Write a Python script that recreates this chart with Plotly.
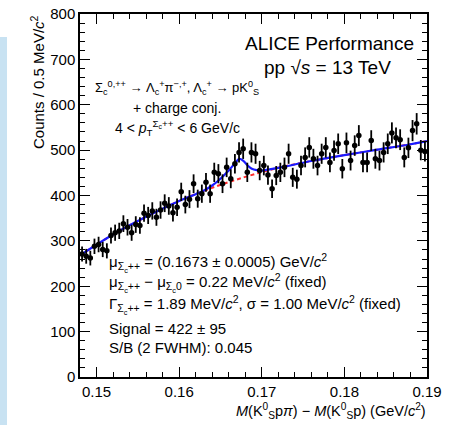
import numpy as np
import plotly.graph_objects as go

# ---- data ----
bin_width = 0.0005
x_first = 0.14825
counts = [271, 266, 262, 288, 292, 281, 278, 312, 318, 322,
          338, 330, 318, 336, 334, 361, 356, 366, 352, 368,
          383, 377, 362, 374, 408, 380, 392, 426, 393, 404,
          429, 404, 451, 448, 426, 462, 437, 470, 495, 503,
          451, 495, 492, 455, 466, 445, 415, 444, 451, 462,
          492, 440, 436, 466, 484, 506, 481, 466, 492, 506,
          473, 499, 514, 459, 516, 477, 510, 532, 473, 473,
          521, 481, 477, 495, 514, 538, 527, 523, 484, 505,
          543, 558, 500, 497]
x_centers = [round(x_first + bin_width * i, 5) for i in range(len(counts))]
errors = [float(np.sqrt(c)) for c in counts]

fit_x = [0.148, 0.152, 0.156, 0.160, 0.162, 0.163, 0.164, 0.165, 0.166, 0.1668,
         0.1673, 0.1678, 0.1683, 0.1688, 0.1694, 0.170, 0.172, 0.176, 0.180,
         0.184, 0.188, 0.190]
fit_total = [268, 314, 353, 388, 403, 411, 422, 437, 455, 472,
             481, 476, 466, 459, 456, 455, 461, 476, 489,
             501, 513, 520]
bkg_x = [0.148, 0.152, 0.156, 0.160, 0.164, 0.168, 0.172, 0.176, 0.180, 0.184, 0.188, 0.190]
bkg_y = [268, 314, 353, 388, 417, 441, 461, 476, 489, 501, 513, 520]

x_ticks = [0.15, 0.16, 0.17, 0.18, 0.19]
x_ticklabels = ["0.15", "0.16", "0.17", "0.18", "0.19"]
y_ticks = [0, 100, 200, 300, 400, 500, 600, 700, 800]

FONT = "Liberation Sans, Arial, Helvetica, sans-serif"

fig = go.Figure()

fig.add_trace(go.Scatter(
    x=bkg_x, y=bkg_y, mode="lines", line=dict(color="#ff2a2a", width=2, dash="4px,3px"),
    line_shape="spline", hoverinfo="skip", showlegend=False))
fig.add_trace(go.Scatter(
    x=fit_x, y=fit_total, mode="lines", line=dict(color="#1a1aff", width=2.2),
    line_shape="spline", hoverinfo="skip", showlegend=False))
fig.add_trace(go.Scatter(
    x=x_centers, y=counts, mode="markers",
    marker=dict(color="black", size=5.5, symbol="circle"),
    error_y=dict(type="data", array=errors, color="black", thickness=1.8, width=0),
    error_x=dict(type="constant", value=bin_width / 2, color="black", thickness=1.8, width=0),
    showlegend=False))

axis_common = dict(
    showline=True, linecolor="black", linewidth=1.5, mirror="allticks",
    ticks="inside", ticklen=10, tickwidth=1.3, tickcolor="black",
    showgrid=False, zeroline=False, automargin=False,
    tickfont=dict(family=FONT, size=15, color="black"),
)
fig.update_xaxes(range=[0.148, 0.19], tickvals=x_ticks, ticktext=x_ticklabels,
                 minor=dict(ticks="inside", dtick=0.002, tick0=0.15, ticklen=5,
                            tickwidth=1.2, tickcolor="black", showgrid=False),
                 ticklabelstandoff=0,
                 **axis_common)
fig.update_yaxes(range=[0, 800], tickvals=y_ticks,
                 minor=dict(ticks="inside", dtick=20, tick0=0, ticklen=5,
                            tickwidth=1.2, tickcolor="black", showgrid=False),
                 **axis_common)

ann = []
def add(text, x, y, size, xanchor="left", yanchor="middle", angle=0):
    ann.append(dict(text=text, x=x, y=y, xref="paper", yref="paper", showarrow=False,
                    xanchor=xanchor, yanchor=yanchor, textangle=angle,
                    font=dict(family=FONT, size=size, color="black")))

W, H = 347.0, 363.0
L, T = 80.0, 14.0
def px(xp):
    return (xp - L) / W
def py(yp):
    return 1 - (yp - T) / H

add("ALICE Performance", px(416), py(43), 19, xanchor="right")
add("pp √<i>s</i> = 13 TeV", px(393), py(67), 19, xanchor="right")
add("Σ<sub>c</sub><sup>0,++</sup> → Λ<sub>c</sub><sup>+</sup>π<sup>−,+</sup>, Λ<sub>c</sub><sup>+</sup> → pK<sup>0</sup><sub>S</sub>",
    px(177), py(88), 13, xanchor="center")
add("+ charge conj.", px(177), py(108), 14, xanchor="center")
add("4 < <i>p</i><sub>T</sub><sup>Σ<sub>c</sub>++</sup> < 6 GeV/c", px(177), py(128), 14, xanchor="center")

add("μ<sub>Σ<sub>c</sub>++</sub> = (0.1673 ± 0.0005) GeV/<i>c</i><sup>2</sup>", px(107), py(263), 15)
add("μ<sub>Σ<sub>c</sub>++</sub> − μ<sub>Σ<sub>c</sub>0</sub> = 0.22 MeV/<i>c</i><sup>2</sup> (fixed)", px(107), py(283), 15)
add("Γ<sub>Σ<sub>c</sub>++</sub> = 1.89 MeV/<i>c</i><sup>2</sup>, σ = 1.00 MeV/<i>c</i><sup>2</sup> (fixed)", px(107), py(305), 15)
add("Signal = 422 ± 95", px(107), py(328), 15)
add("S/B (2 FWHM): 0.045", px(107), py(347), 15)

add("<i>M</i>(K<sup>0</sup><sub>S</sub>p<i>π</i>) − <i>M</i>(K<sup>0</sup><sub>S</sub>p) (GeV/<i>c</i><sup>2</sup>)",
    px(428), py(411), 14.5, xanchor="right")
add("Counts / 0.5 MeV/<i>c</i><sup>2</sup>", px(37), py(13), 15, xanchor="center", yanchor="top", angle=-90)

fig.update_layout(
    width=449, height=425,
    margin=dict(l=80, r=22, t=14, b=48),
    paper_bgcolor="white", plot_bgcolor="white",
    annotations=ann,
    shapes=[dict(type="rect", xref="paper", yref="paper",
                 x0=px(0), x1=px(7), y0=py(425), y1=py(37),
                 fillcolor="#c8e2f2", line=dict(width=0), layer="below")],
    font=dict(family=FONT, color="black"),
)

fig.write_html("out.html", config={"displayModeBar": False},
               post_script="document.body.style.margin='0px';")
